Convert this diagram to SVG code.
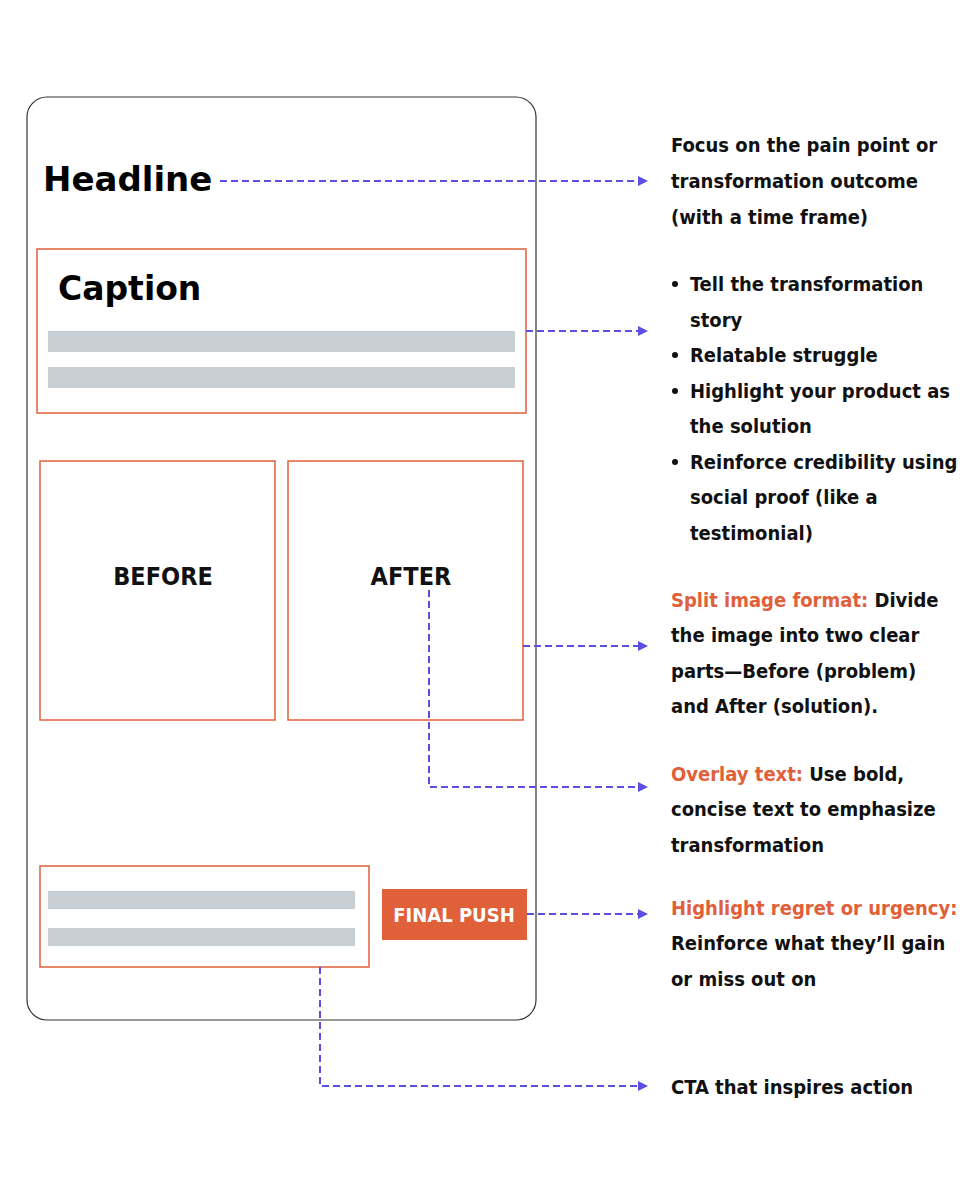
<svg xmlns="http://www.w3.org/2000/svg" width="960" height="1200" viewBox="0 0 960 1200">
<style>
.t{font-family:"DejaVu Sans Condensed","DejaVu Sans",sans-serif;font-stretch:condensed;font-weight:bold;font-size:20px;fill:#111}
.o{fill:#e0603a}
.big{font-family:"DejaVu Sans",sans-serif;font-weight:bold;fill:#000}
.box{fill:none;stroke:#e0603a;stroke-width:1.5}
.bar{fill:#c8d0d6}
.c{fill:none;stroke:#5b4ee0;stroke-width:2;stroke-dasharray:7 4}
</style>
<defs><marker id="a" viewBox="0 0 10 10" refX="8" refY="5" markerWidth="5" markerHeight="5" orient="auto"><path d="M0,0L10,5L0,10z" fill="#5b4ee0"/></marker></defs>
<rect width="960" height="1200" fill="#fff"/>
<g id="phone"><rect x="27" y="97" width="509" height="923" rx="20" fill="none" stroke="#333" stroke-width="1.2"/></g>
<g id="headline"><text class="big" x="43" y="191" style="font-size:34px">Headline</text></g>
<g id="caption"><rect class="box" x="37" y="249" width="489" height="164"/><text class="big" x="58" y="300" style="font-size:33px">Caption</text><rect class="bar" x="48" y="331" width="467" height="21"/><rect class="bar" x="48" y="367" width="467" height="21"/></g>
<g id="before"><rect class="box" x="40" y="461" width="235" height="259"/><text class="t" x="163" y="585" style="font-size:25px" text-anchor="middle">BEFORE</text></g>
<g id="after"><rect class="box" x="288" y="461" width="235" height="259"/><text class="t" x="411" y="585" style="font-size:25px" text-anchor="middle">AFTER</text></g>
<g id="cta"><rect class="box" x="40" y="866" width="329" height="101"/><rect class="bar" x="48" y="891" width="307" height="18"/><rect class="bar" x="48" y="928" width="307" height="18"/></g>
<g id="finalpush"><rect x="382" y="889" width="145" height="51" fill="#e0603a"/><text class="t" x="454" y="922" style="font-size:20px;fill:#fff" text-anchor="middle">FINAL PUSH</text></g>
<g id="connectors">
<path class="c" d="M220,181H646" marker-end="url(#a)"/>
<path class="c" d="M526,331H646" marker-end="url(#a)"/>
<path class="c" d="M523,646H646" marker-end="url(#a)"/>
<path class="c" d="M429,590V787H646" marker-end="url(#a)"/>
<path class="c" d="M527,914H646" marker-end="url(#a)"/>
<path class="c" d="M320,967V1086H646" marker-end="url(#a)"/>
</g>
<g id="notes">
<text class="t" x="671" y="152">Focus on the pain point or</text>
<text class="t" x="671" y="188">transformation outcome</text>
<text class="t" x="671" y="224">(with a time frame)</text>
<circle cx="675" cy="284" r="3" fill="#111"/><text class="t" x="690" y="291">Tell the transformation</text>
<text class="t" x="690" y="327">story</text>
<circle cx="675" cy="355" r="3" fill="#111"/><text class="t" x="690" y="362">Relatable struggle</text>
<circle cx="675" cy="391" r="3" fill="#111"/><text class="t" x="690" y="398">Highlight your product as</text>
<text class="t" x="690" y="433">the solution</text>
<circle cx="675" cy="462" r="3" fill="#111"/><text class="t" x="690" y="469">Reinforce credibility using</text>
<text class="t" x="690" y="504">social proof (like a</text>
<text class="t" x="690" y="540">testimonial)</text>
<text class="t" x="671" y="607"><tspan class="o">Split image format:</tspan> Divide</text>
<text class="t" x="671" y="642">the image into two clear</text>
<text class="t" x="671" y="678">parts—Before (problem)</text>
<text class="t" x="671" y="713">and After (solution).</text>
<text class="t" x="671" y="781"><tspan class="o">Overlay text:</tspan> Use bold,</text>
<text class="t" x="671" y="816">concise text to emphasize</text>
<text class="t" x="671" y="852">transformation</text>
<text class="t" x="671" y="915"><tspan class="o">Highlight regret or urgency:</tspan></text>
<text class="t" x="671" y="950">Reinforce what they’ll gain</text>
<text class="t" x="671" y="986">or miss out on</text>
<text class="t" x="671" y="1094">CTA that inspires action</text>
</g>
</svg>
